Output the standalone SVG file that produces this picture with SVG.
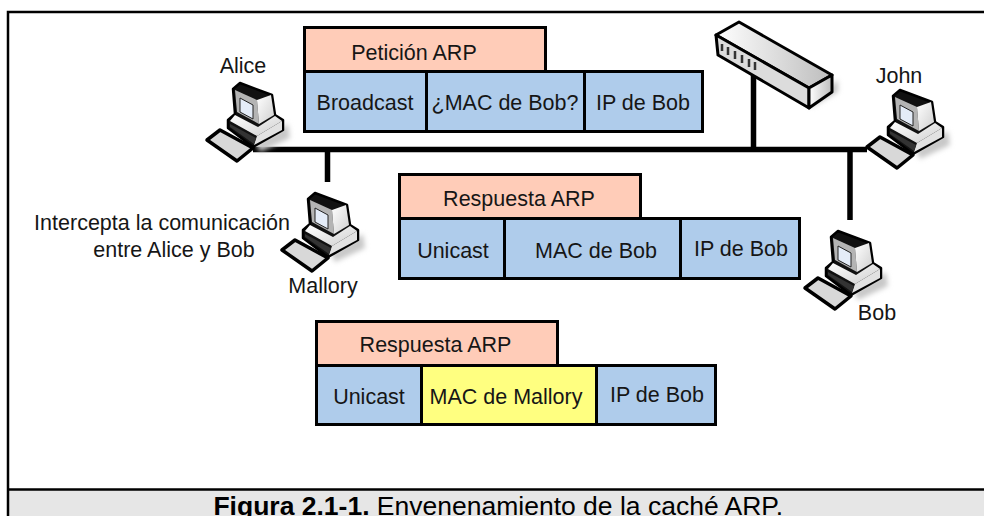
<svg xmlns="http://www.w3.org/2000/svg" width="984" height="516" viewBox="0 0 984 516">
<style>
text{font-family:"Liberation Sans",Arial,sans-serif;font-size:21.5px;fill:#161616;text-anchor:middle}
.c{font-size:26.5px;fill:#000;text-anchor:end}
.b{stroke:#000;stroke-width:3}
.t{fill:#ffccb8}.m{fill:#afcceb}.y{fill:#ffff80}
.w{stroke:#000;stroke-width:5.5;fill:none}
.k{stroke:#000;stroke-linejoin:round}
</style>
<defs>
<filter id="s" x="-30%" y="-30%" width="160%" height="160%"><feGaussianBlur stdDeviation="2.5"/></filter>
<linearGradient id="g1" x1="0" y1="0" x2="1" y2="1"><stop offset="0" stop-color="#fff"/><stop offset="1" stop-color="#cfcfcf"/></linearGradient>
<linearGradient id="g2" x1="0" y1="0" x2="1" y2="0"><stop offset="0" stop-color="#fff"/><stop offset="1" stop-color="#bdbdbd"/></linearGradient>
<g id="pc">
<polygon points="66,104 98,84 100,98 70,112" fill="#c8c8c8" filter="url(#s)"/>
<polygon points="43,49 50,43 82,55 85,75 93,80 93,90 63,107 38,88 38,80 45,74" fill="#111" class="k" stroke-width="2.5"/>
<polygon points="40,81 45,75 68,87 85,76 92,81 67,96" fill="url(#g1)"/>
<polygon points="67,96 92,81 92,90 64,105" fill="#e2e2e2"/>
<polygon points="45,50 67,60 69,84 47,72" fill="#b4b4b4"/>
<polygon points="67,60 81,55 84,75 69,84" fill="url(#g1)"/>
<polygon points="50,58 63,65 63,79 50,72" fill="#e4ecf8" stroke="#222" stroke-width="1"/>
<polygon points="40,84 66,98 64,104 40,87" fill="#333"/>
<polygon points="17,100 30,90 63,108 47,121" fill="#d8d8d8" class="k" stroke-width="3.5"/>
</g>
</defs>
<rect width="984" height="516" fill="#fff"/>
<rect x="9" y="490" width="975" height="26" fill="#e6e6e6"/>
<path d="M984 12H8V516M8 489.5H984" fill="none" stroke="#000" stroke-width="2.5"/>
<g id="connectors">
<path class="w" d="M253 149.5H867M327.5 149.5V182M753.5 75V149.5M850 149.5V220"/>
</g>
<g id="switch">
<polygon points="810,108 838,92 838,80 812,100" fill="#c8c8c8" filter="url(#s)"/>
<polygon points="716,35 739,22 832,75 809,88" fill="url(#g2)" class="k" stroke-width="3"/>
<polygon points="716,35 809,88 809,108 718,55" fill="#dcdcdc" class="k" stroke-width="3"/>
<polygon points="809,88 832,75 832,92 809,108" fill="url(#g2)" class="k" stroke-width="3"/>
<path d="M722 44v7M728 47v8M735 51v8M742 55v8M749 59v8M755 62v8" stroke="#333" stroke-width="2.5"/>
</g>
<g id="alice"><use href="#pc" transform="translate(190,40)"/><text x="243" y="73">Alice</text></g>
<g id="john"><use href="#pc" transform="translate(850,47)"/><text x="899" y="83">John</text></g>
<g id="mallory"><use href="#pc" transform="translate(265,150)"/><text x="323" y="293">Mallory</text><text x="162" y="230">Intercepta la comunicación</text><text x="174" y="257">entre Alice y Bob</text></g>
<g id="bob"><use href="#pc" transform="translate(788,188)"/><text x="877" y="320">Bob</text></g>
<g id="peticion">
<rect class="t b" x="304.5" y="27.5" width="241" height="44"/>
<rect class="m b" x="304.5" y="71.5" width="122" height="60"/>
<rect class="m b" x="426.5" y="71.5" width="158" height="60"/>
<rect class="m b" x="584.5" y="71.5" width="118" height="60"/>
<text x="414" y="60">Petición ARP</text><text x="365" y="110">Broadcast</text><text x="505" y="110">¿MAC de Bob?</text><text x="643" y="110">IP de Bob</text>
</g>
<g id="respuesta">
<rect class="t b" x="399.5" y="174.5" width="241" height="44"/>
<rect class="m b" x="399.5" y="218.5" width="105" height="60"/>
<rect class="m b" x="504.5" y="218.5" width="176" height="60"/>
<rect class="m b" x="680.5" y="218.5" width="119" height="60"/>
<text x="519" y="206">Respuesta ARP</text><text x="453" y="258">Unicast</text><text x="596" y="258">MAC de Bob</text><text x="741" y="256">IP de Bob</text>
</g>
<g id="respuesta-mallory">
<rect class="t b" x="316.5" y="321.5" width="241" height="44"/>
<rect class="m b" x="316.5" y="365.5" width="105" height="59"/>
<rect class="y b" x="421.5" y="365.5" width="175" height="59"/>
<rect class="m b" x="596.5" y="365.5" width="119" height="59"/>
<text x="435.5" y="352">Respuesta ARP</text><text x="369" y="404">Unicast</text><text x="506" y="404">MAC de Mallory</text><text x="657" y="402">IP de Bob</text>
</g>
<text class="c" x="783" y="515"><tspan font-weight="bold">Figura 2.1-1.</tspan> Envenenamiento de la caché ARP.</text>
</svg>
